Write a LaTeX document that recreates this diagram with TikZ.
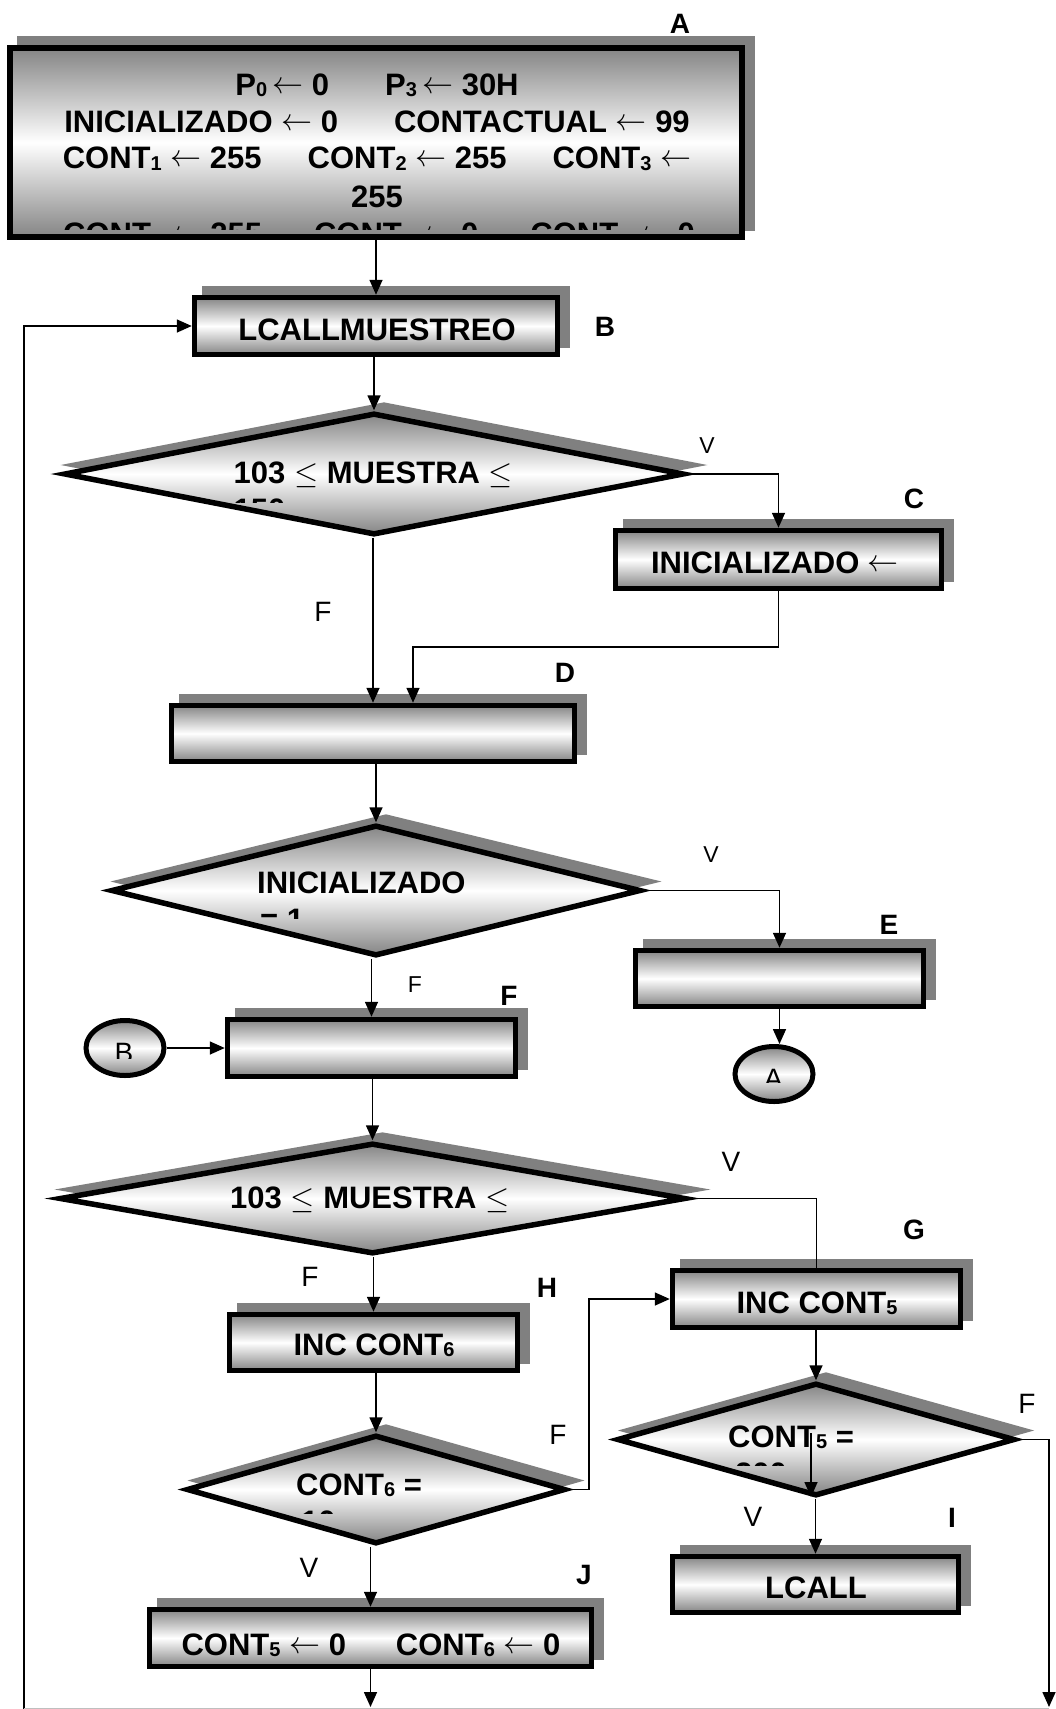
\RequirePackage{fix-cm}
\documentclass[tikz,border=0pt]{standalone}
\usepackage{fontspec}
\setmainfont{Liberation Sans}
\usetikzlibrary{shapes.geometric,arrows.meta}
\definecolor{shd}{gray}{0.5}
\newcommand\sbs[1]{\raisebox{-1.5pt}{\fontsize{20}{20}\selectfont #1}}
\newcommand\lar{\raisebox{2pt}{$\leftarrow$}}
\begin{document}
\begin{tikzpicture}[x=1pt,y=-1pt,
  shadowed/.style={preaction={draw=shd,fill=shd,line width=5.5pt,transform canvas={xshift=10pt,yshift=9pt}}},
  grad/.style={top color=black!48,bottom color=black!48,middle color=white},
  bx/.style={shadowed,draw=black,line width=5.5pt,grad,rectangle,inner sep=0pt},
  dm/.style={shadowed,draw=black,line width=5.5pt,grad,diamond,inner sep=0pt},
  cn/.style={draw=black,line width=5pt,grad,ellipse,inner sep=0pt,minimum width=78pt,minimum height=55pt},
  tx/.style={font=\fontsize{31}{37}\selectfont\bfseries,inner sep=0pt,anchor=base},
  txl/.style={tx,anchor=base west},
  ct/.style={font=\fontsize{28}{30}\selectfont,inner sep=0pt,anchor=base},
  lb/.style={font=\fontsize{28}{30}\selectfont\bfseries,inner sep=0pt},
  rl/.style={font=\fontsize{28}{30}\selectfont,inner sep=0pt},
  rs/.style={font=\fontsize{23}{25}\selectfont,inner sep=0pt},
  cnx/.style={line width=1.6pt,draw=black},
  arr/.style={cnx,-{Triangle[length=15pt,width=13pt]}}
]
\useasboundingbox[fill=white] (0,0) rectangle (1056,1709);

% shapes
\node[bx,minimum width=732pt,minimum height=189pt] (A) at (376,142.5) {};
\node[bx,minimum width=363pt,minimum height=57pt] (B) at (376,326) {};
\node[dm,minimum width=620pt,minimum height=122pt] (D1) at (374,474) {};
\node[bx,minimum width=326pt,minimum height=58pt] (C) at (778.5,559.5) {};
\node[bx,minimum width=403pt,minimum height=56pt] (D) at (373,733.5) {};
\node[dm,minimum width=530pt,minimum height=131pt] (D2) at (376,890.5) {};
\node[bx,minimum width=288pt,minimum height=56pt] (E) at (779.5,978.5) {};
\node[cn] (cA) at (774,1074) {};
\node[cn] (cB) at (125,1048) {};
\node[bx,minimum width=288pt,minimum height=57pt] (F) at (371.5,1048) {};
\node[dm,minimum width=626pt,minimum height=111pt] (D3) at (372.5,1198.5) {};
\node[bx,minimum width=288pt,minimum height=57pt] (G) at (816.5,1299) {};
\node[bx,minimum width=288pt,minimum height=56pt] (H) at (373.5,1342.5) {};
\node[dm,minimum width=379pt,minimum height=109pt] (D4) at (376,1489.5) {};
\node[dm,minimum width=398pt,minimum height=113pt] (D5) at (816,1439.5) {};
\node[bx,minimum width=286pt,minimum height=56pt] (I) at (815.5,1584.5) {};
\node[bx,minimum width=442pt,minimum height=57pt] (J) at (370.5,1638) {};

% texts
\node[tx] (a1) at (377,95) {P\sbs{0}\,\lar\ 0\hspace{56pt}P\sbs{3}\,\lar\ 30H};
\node[tx] (a2) at (377,132) {INICIALIZADO \lar\ 0\hspace{56pt}CONTACTUAL \lar\ 99};
\node[tx] (a3) at (377,168.5) {CONT\sbs{1} \lar\ 255\hspace{46pt}CONT\sbs{2} \lar\ 255\hspace{46pt}CONT\sbs{3} \lar};
\node[tx] (a4) at (377,207) {255};
\begin{scope}
\clip (10,48) rectangle (742,229);
\node[tx] (a5) at (379,244) {CONT\sbs{4} \lar\ 255\hspace{52pt}CONT\sbs{5} \lar\ 0\hspace{52pt}CONT\sbs{6} \lar\ 0};
\end{scope}
\node[tx] (tB) at (377,340) {LCALLMUESTREO};
\node[txl] (t1) at (233.5,483) {103 $\leq$ MUESTRA $\leq$};
\begin{scope}
\clip (100,440) rectangle (650,502);
\node[txl] (t1b) at (233.5,520) {150};
\end{scope}
\node[tx] (tC) at (775,573) {INICIALIZADO \lar};
\node[txl] (t2) at (257,893) {INICIALIZADO};
\begin{scope}
\clip (150,860) rectangle (600,918);
\node[txl] (t2b) at (260,930) {= 1};
\end{scope}
\node[txl] (t3) at (230,1208) {103 $\leq$ MUESTRA $\leq$};
\node[tx] (tG) at (817,1313) {INC CONT\sbs{5}};
\node[tx] (tH) at (374,1355) {INC CONT\sbs{6}};
\node[txl] (t4) at (296,1495) {CONT\sbs{6} =};
\begin{scope}
\clip (200,1460) rectangle (560,1513);
\node[txl] (t4b) at (301,1532) {10};
\end{scope}
\node[txl] (t5) at (728,1447) {CONT\sbs{5} =};
\begin{scope}
\clip (640,1400) rectangle (1000,1465);
\node[txl] (t5b) at (735,1484) {200};
\end{scope}
\node[tx] (tI) at (816,1598) {LCALL};
\node[tx] (tJ) at (371,1655) {CONT\sbs{5} \lar\ 0\hspace{50pt}CONT\sbs{6} \lar\ 0};
\begin{scope}
\clip (90,1030) rectangle (160,1058);
\node[ct] (tcB) at (124,1062) {B};
\end{scope}
\begin{scope}
\clip (740,1060) rectangle (810,1082);
\node[ct] (tcA) at (773.5,1088) {A};
\end{scope}

% letter labels
\node[lb] (LA) at (680,24) {A};
\node[lb] (LB) at (605,327) {B};
\node[lb] (LC) at (914,499) {C};
\node[lb] (LD) at (565,673) {D};
\node[lb] (LE) at (889,925) {E};
\node[lb] (LF) at (509,996) {F};
\node[lb] (LG) at (914,1230) {G};
\node[lb] (LH) at (547,1288) {H};
\node[lb] (LI) at (952,1518) {I};
\node[lb] (LJ) at (584,1575) {J};

% branch labels
\node[rs] (v1) at (707,446) {V};
\node[rl] (f1) at (323,612) {F};
\node[rs] (v2) at (711,855) {V};
\node[rs] (f2) at (415,985) {F};
\node[rl] (v3) at (731,1162) {V};
\node[rl] (f3) at (310,1277) {F};
\node[rl] (f4) at (558,1435) {F};
\node[rl] (f5) at (1027,1404) {F};
\node[rl] (v5) at (753,1517) {V};
\node[rl] (v4) at (309,1568) {V};

% connectors
\coordinate (lp) at (24,1709);
\coordinate (cd) at (413,647);
\coordinate (k4) at (589,1489.5);
\coordinate (s1) at (811,1433);
\coordinate (s2) at (811,1497);
\coordinate (rb) at (1049,1707);
\coordinate (jb) at (370.5,1707);
\coordinate (bl) at (24,1708.6);
\coordinate (br) at (1049,1708.6);

\draw[arr] (A.south) -- (A.south |- B.north);
\draw[arr] (lp) |- (B.west);
\draw[arr] (B.south -| D1.north) -- (D1.north);
\draw[arr] (D1.east) -| (C.north);
\draw[arr] (D1.south -| D.north) -- (D.north);
\draw[arr] (C.south) |- (cd) -- (cd |- D.north);
\draw[arr] (D.south -| D2.north) -- (D2.north);
\draw[arr] (D2.east) -| (E.north);
\draw[arr] (E.south) -- (E.south |- cA.north);
\draw[arr] (D2.south -| F.north) -- (F.north);
\draw[arr] (cB.east) -- (F.west);
\draw[arr] (F.south -| D3.north) -- (D3.north);
\draw[cnx] (D3.east) -| (G.north);
\draw[arr] (D3.south -| H.north) -- (H.north);
\draw[arr] (H.south -| D4.north) -- (D4.north);
\draw[arr] (D4.east) -- (k4) |- (G.west);
\draw[arr] (G.south -| D5.north) -- (D5.north);
\draw[arr] (s1) -- (s2);
\draw[arr] (D5.south -| I.north) -- (I.north);
\draw[arr] (D5.east) -| (rb);
\draw[arr] (D4.south -| J.north) -- (J.north);
\draw[arr] (J.south) -- (jb);
\draw[black!25,line width=1.2pt] (bl) -- (br);
\end{tikzpicture}
\end{document}
